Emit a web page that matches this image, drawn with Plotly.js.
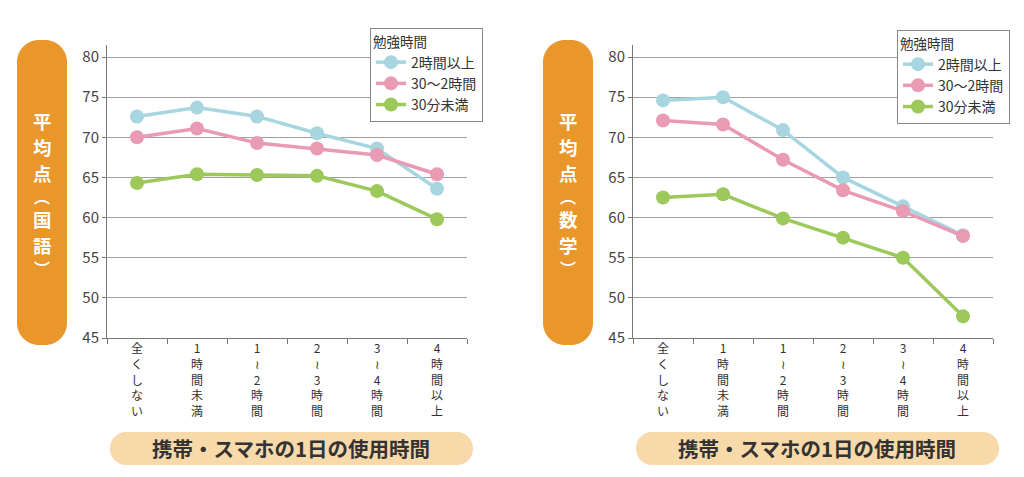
<!DOCTYPE html>
<html><head><meta charset="utf-8">
<script src="https://cdn.plot.ly/plotly-3.0.1.min.js"></script>
<style>html,body{margin:0;padding:0;background:#fff;}#chart{width:1024px;height:477px;}</style>
</head><body><div id="chart"></div>
<script>
const categories = ['全くしない','1時間未満','1~2時間','2~3時間','3~4時間','4時間以上'];
const tickLabels = ['全<br>く<br>し<br>な<br>い','1<br>時<br>間<br>未<br>満','1<br>≀<br>2<br>時<br>間','2<br>≀<br>3<br>時<br>間','3<br>≀<br>4<br>時<br>間','4<br>時<br>間<br>以<br>上'];
const seriesNames = ['2時間以上','30～2時間','30分未満'];
const kokugo2h   = [72.6, 73.7, 72.6, 70.5, 68.6, 63.6];
const kokugoMid  = [70.0, 71.1, 69.3, 68.6, 67.8, 65.4];
const kokugoLow  = [64.3, 65.4, 65.3, 65.2, 63.3, 59.8];
const sugaku2h   = [74.6, 75.0, 70.9, 65.0, 61.4, 57.8];
const sugakuMid  = [72.1, 71.6, 67.2, 63.4, 60.8, 57.7];
const sugakuLow  = [62.5, 62.9, 59.9, 57.5, 55.0, 47.7];
const yTicks = [45, 50, 55, 60, 65, 70, 75, 80];
const legendTitle = '勉強時間';
const xTitle = '携帯・スマホの1日の使用時間';
const yTitleLeft = ['平','均','点','︵','国','語','︶'];
const yTitleRight = ['平','均','点','︵','数','学','︶'];

const W = 1024, H = 477;
const px = x => x / W;
const py = y => 1 - y / H;
const FONT = '"Noto Sans CJK JP", "Noto Sans", sans-serif';
const colors = ['#a7d6e1', '#e99bb4', '#9dc95b'];

function rr(x0, y0, x1, y1, r) {
  const k = 0.5523 * r;
  const P = (x, y) => px(x).toFixed(5) + ',' + py(y).toFixed(5);
  return 'M' + P(x0 + r, y0) +
    ' L' + P(x1 - r, y0) +
    ' C' + P(x1 - r + k, y0) + ' ' + P(x1, y0 + r - k) + ' ' + P(x1, y0 + r) +
    ' L' + P(x1, y1 - r) +
    ' C' + P(x1, y1 - r + k) + ' ' + P(x1 - r + k, y1) + ' ' + P(x1 - r, y1) +
    ' L' + P(x0 + r, y1) +
    ' C' + P(x0 + r - k, y1) + ' ' + P(x0, y1 - r + k) + ' ' + P(x0, y1 - r) +
    ' L' + P(x0, y0 + r) +
    ' C' + P(x0, y0 + r - k) + ' ' + P(x0 + r - k, y0) + ' ' + P(x0 + r, y0) + ' Z';
}

function mk(vals, i, xa, ya, leg) {
  return {
    x: categories, y: vals, type: 'scatter', mode: 'lines+markers',
    name: seriesNames[i], xaxis: xa, yaxis: ya, legend: leg,
    line: {color: colors[i], width: 3.5},
    marker: {color: colors[i], size: 14},
    hoverinfo: 'skip'
  };
}
const data = [
  mk(kokugo2h, 0, 'x', 'y', 'legend'),
  mk(kokugoMid, 1, 'x', 'y', 'legend'),
  mk(kokugoLow, 2, 'x', 'y', 'legend'),
  mk(sugaku2h, 0, 'x2', 'y2', 'legend2'),
  mk(sugakuMid, 1, 'x2', 'y2', 'legend2'),
  mk(sugakuLow, 2, 'x2', 'y2', 'legend2')
];

const xaxisBase = {
  type: 'category', range: [-0.5, 5.5], tickmode: 'array', tickvals: categories, ticktext: tickLabels,
  tickson: 'boundaries', ticks: 'outside', ticklen: 5, tickcolor: '#777', tickwidth: 1,
  showline: true, linecolor: '#777', linewidth: 1, showgrid: false, zeroline: false,
  tickfont: {family: FONT, size: 12, color: '#333'}, fixedrange: true
};
const yaxisBase = {
  range: [45, 81.5], tickvals: yTicks, ticks: 'outside', ticklen: 4, tickcolor: '#777',
  showline: true, linecolor: '#777', linewidth: 1, showgrid: true, gridcolor: '#a0a0a0', gridwidth: 1,
  zeroline: false, tickfont: {family: FONT, size: 15, color: '#444'}, fixedrange: true,
  domain: [py(338), py(45)]
};

const legendBase = {
  bgcolor: '#fff', bordercolor: '#888', borderwidth: 1,
  font: {family: FONT, size: 14, color: '#333'},
  title: {text: legendTitle, font: {family: FONT, size: 13.5, color: '#333'}},
  xanchor: 'left', yanchor: 'top', tracegroupgap: 0, itemwidth: 30
};

const shapes = [
  {type: 'path', xref: 'paper', yref: 'paper', path: rr(17, 40, 67, 345, 22), fillcolor: '#e9962a', line: {width: 0}, layer: 'below'},
  {type: 'path', xref: 'paper', yref: 'paper', path: rr(543, 40, 593, 345, 22), fillcolor: '#e9962a', line: {width: 0}, layer: 'below'},
  {type: 'path', xref: 'paper', yref: 'paper', path: rr(110, 432, 473, 465, 16), fillcolor: '#f8d9aa', line: {width: 0}, layer: 'below'},
  {type: 'path', xref: 'paper', yref: 'paper', path: rr(636, 432, 999, 465, 16), fillcolor: '#f8d9aa', line: {width: 0}, layer: 'below'}
];

const annotations = [];
const yCenters = [121, 147, 173, 196, 219, 245, 268];
function addYTitle(chars, cx) {
  chars.forEach((c, i) => {
    const paren = (c === '︵' || c === '︶');
    annotations.push({
      text: c, xref: 'paper', yref: 'paper', x: px(cx), y: py(yCenters[i]),
      xanchor: 'center', yanchor: 'middle', showarrow: false,
      font: {family: FONT, size: paren ? 16 : 18.5, color: '#fff', weight: 'bold'}
    });
  });
}
addYTitle(yTitleLeft, 42);
addYTitle(yTitleRight, 568);
[291, 817].forEach(cx => annotations.push({
  text: '<b>' + xTitle + '</b>', xref: 'paper', yref: 'paper', x: px(cx), y: py(448),
  xanchor: 'center', yanchor: 'middle', showarrow: false,
  font: {family: FONT, size: 20.5, color: '#333'}
}));

const layout = {
  width: W, height: H, margin: {l: 0, r: 0, t: 0, b: 0},
  paper_bgcolor: '#fff', plot_bgcolor: 'rgba(0,0,0,0)',
  font: {family: FONT},
  xaxis: Object.assign({}, xaxisBase, {domain: [px(107), px(467)], anchor: 'y'}),
  yaxis: Object.assign({}, yaxisBase, {anchor: 'x'}),
  xaxis2: Object.assign({}, xaxisBase, {domain: [px(633), px(993)], anchor: 'y2'}),
  yaxis2: Object.assign({}, yaxisBase, {anchor: 'x2'}),
  legend: Object.assign({}, legendBase, {x: px(370), y: py(28)}),
  legend2: Object.assign({}, legendBase, {x: px(897), y: py(30)}),
  shapes: shapes, annotations: annotations, showlegend: true
};

Plotly.newPlot('chart', data, layout, {staticPlot: true, displayModeBar: false});
</script>
</body></html>
